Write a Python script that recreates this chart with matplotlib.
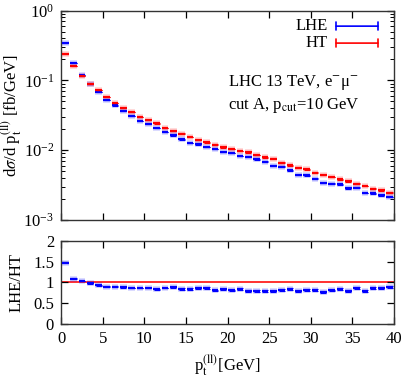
import matplotlib
matplotlib.use("Agg")
import matplotlib.pyplot as plt
import numpy as np

plt.rcParams['font.family'] = 'Liberation Serif'
plt.rcParams['mathtext.fontset'] = 'stix'
plt.rcParams['font.size'] = 12

# bins of 1 GeV from 0 to 40
bin_lo = np.arange(0, 40)

lhe = [0.346, 0.179, 0.119, 0.0885, 0.0681, 0.0528, 0.0439, 0.0367, 0.0309, 0.0264,
       0.0235, 0.0206, 0.0182, 0.0163, 0.0143, 0.0128, 0.0121, 0.0112, 0.0104, 0.00951,
       0.00920, 0.00825, 0.00806, 0.00740, 0.00684, 0.00599, 0.00579, 0.00515, 0.00441, 0.00436,
       0.00390, 0.00339, 0.00331, 0.00324, 0.00284, 0.00290, 0.00243, 0.00241, 0.00226, 0.00213]

ht = [0.238, 0.162, 0.115, 0.0886, 0.0727, 0.0577, 0.0478, 0.0406, 0.0352, 0.0301,
      0.0270, 0.0242, 0.0210, 0.0188, 0.0172, 0.0156, 0.0141, 0.0130, 0.0120, 0.0110,
      0.0104, 0.00973, 0.00941, 0.00853, 0.00791, 0.00755, 0.00661, 0.00607, 0.00561, 0.00532,
      0.00475, 0.00441, 0.00413, 0.00383, 0.00358, 0.00331, 0.00307, 0.00281, 0.00266, 0.00246]

ratio = [1.473, 1.089, 1.034, 0.976, 0.928, 0.897, 0.897, 0.880, 0.865, 0.865,
         0.865, 0.832, 0.865, 0.880, 0.840, 0.840, 0.865, 0.865, 0.808, 0.832,
         0.808, 0.840, 0.800, 0.800, 0.800, 0.784, 0.817, 0.840, 0.784, 0.816,
         0.816, 0.770, 0.808, 0.849, 0.800, 0.873, 0.793, 0.865, 0.857, 0.880]

ratio_err = [0.02, 0.01, 0.01, 0.01, 0.01, 0.01, 0.01, 0.01, 0.01, 0.01,
             0.01, 0.015, 0.01, 0.01, 0.015, 0.015, 0.015, 0.015, 0.015, 0.015,
             0.015, 0.02, 0.02, 0.02, 0.02, 0.02, 0.02, 0.02, 0.02, 0.02,
             0.02, 0.025, 0.02, 0.025, 0.025, 0.025, 0.025, 0.025, 0.025, 0.025]

# relative stat. errors on the distributions
rel_err = [0.005, 0.005, 0.005, 0.005, 0.005, 0.005, 0.005, 0.005, 0.005, 0.005,
           0.005, 0.005, 0.005, 0.005, 0.02, 0.008, 0.008, 0.008, 0.008, 0.008,
           0.008, 0.008, 0.015, 0.01, 0.01, 0.01, 0.01, 0.01, 0.01, 0.01,
           0.01, 0.01, 0.012, 0.012, 0.012, 0.012, 0.012, 0.012, 0.012, 0.012]

blue = '#0000ff'
red = '#ff0000'


def draw_bins(ax, vals, err, color):
    vals = np.asarray(vals)
    err = np.asarray(err)
    x0 = bin_lo + 0.1
    x1 = bin_lo + 0.9
    xc = bin_lo + 0.5
    ax.hlines(vals, x0, x1, colors=color, lw=4, alpha=0.18, zorder=2)
    ax.hlines(vals, x0, x1, colors=color, lw=1.6, zorder=3)
    ax.errorbar(xc, vals, yerr=err, fmt='none', ecolor=color, elinewidth=0.8,
                capsize=2, capthick=0.8, zorder=3)


fig = plt.figure(figsize=(4.07, 3.80), dpi=100)
ax1 = fig.add_axes([0.150, 0.421, 0.818, 0.551])
ax2 = fig.add_axes([0.150, 0.1474, 0.818, 0.2192])

draw_bins(ax1, lhe, np.asarray(lhe) * np.asarray(rel_err), blue)
draw_bins(ax1, ht, np.asarray(ht) * np.asarray(rel_err), red)

ax1.set_yscale('log')
ax1.set_ylim(1e-3, 1)
ax1.set_xlim(0, 40)
ax1.set_xticks(np.arange(0, 41, 5))
ax1.tick_params(labelbottom=False)
ax1.set_ylabel(r'd$\sigma$/d p$_\mathrm{t}^{\mathrm{(ll)}}$ [fb/GeV]')

# legend drawn like gnuplot's errorbar key
for yk, lab, col in [(0.926, 'LHE', blue), (0.845, 'HT', red)]:
    ax1.annotate('', xy=(0.952, yk), xytext=(0.826, yk), xycoords='axes fraction',
                 arrowprops=dict(arrowstyle='|-|, widthA=0.25, widthB=0.25',
                                 color=col, lw=1.2, shrinkA=0, shrinkB=0))
    ax1.text(0.802, yk, lab, transform=ax1.transAxes, ha='right', va='center')

ax1.text(0.50, 0.659, 'LHC 13 TeV, e$^{-}$μ$^{-}$', transform=ax1.transAxes,
         ha='left', va='center')
ax1.text(0.50, 0.545, r'cut A, p$_\mathrm{cut}$=10 GeV', transform=ax1.transAxes,
         ha='left', va='center')

ax2.axhline(1.0, color='#ff3030', lw=1.4, zorder=1)
draw_bins(ax2, ratio, ratio_err, blue)
ax2.set_xlim(0, 40)
ax2.set_ylim(0, 2)
ax2.set_xticks(np.arange(0, 41, 5))
ax2.set_yticks([0, 0.5, 1, 1.5, 2])
ax2.set_yticklabels(['0', '0.5', '1', '1.5', '2'])
ax2.set_ylabel('LHE/HT')
ax2.set_xlabel(r'p$_\mathrm{t}^{\mathrm{(ll)}}$[GeV]', labelpad=4)

for ax in (ax1, ax2):
    ax.tick_params(which='both', direction='in', top=True, right=True)
    ax.tick_params(which='major', length=5, width=0.9, pad=5)
    ax.tick_params(which='minor', length=3, width=0.7)
    for s in ax.spines.values():
        s.set_linewidth(1.0)
        s.set_color('#333333')

ax1.yaxis.set_label_coords(-0.11, 0.5)
ax2.yaxis.set_label_coords(-0.11, 0.5)

fig.savefig('out.png', dpi=100)
